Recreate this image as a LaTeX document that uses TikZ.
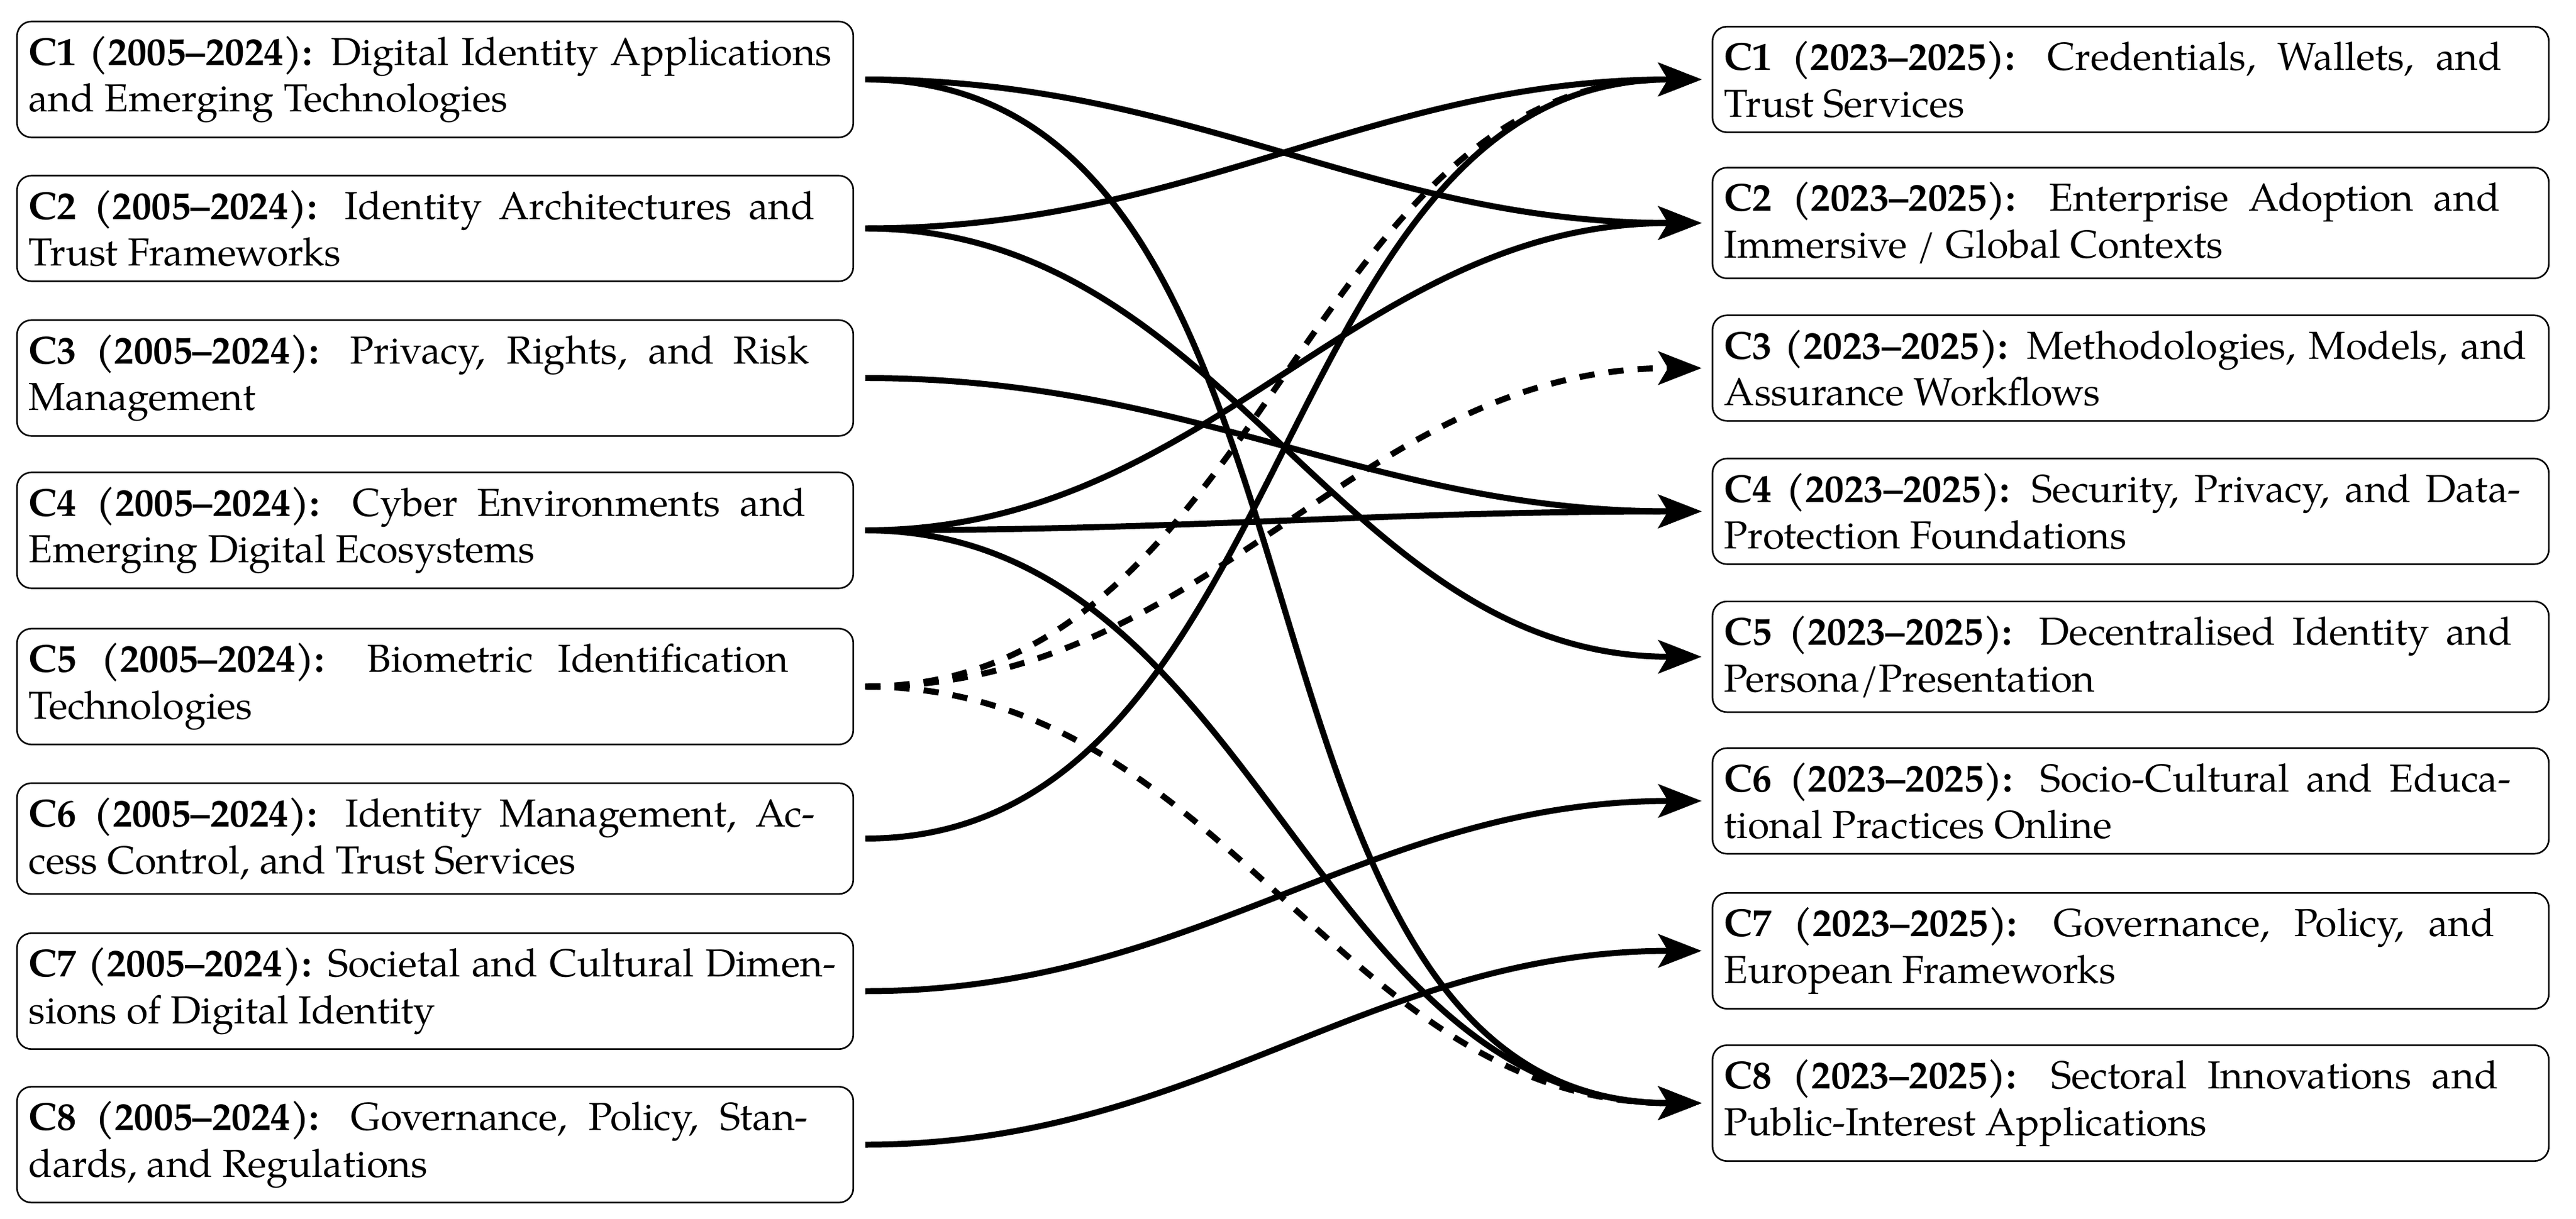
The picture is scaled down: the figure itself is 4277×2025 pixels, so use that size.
\documentclass[tikz,border=0pt]{standalone}
\usepackage{fontspec}
\setmainfont{texgyrepagella}[Extension=.otf,UprightFont=*-regular,BoldFont=*-bold,ItalicFont=*-italic,BoldItalicFont=*-bolditalic]
\usetikzlibrary{arrows.meta}
\newcommand\semirag{\leftskip=0pt\relax\rightskip=0pt plus 0.45em\relax\spaceskip=0pt\relax\xspaceskip=0pt\relax}
\newcommand\cltext[2]{\semirag\textbf{#1} #2\par}
\tikzset{
  box/.style={draw, line width=0.4pt, rounded corners=3.6pt, text width=203pt,
    inner xsep=2.9pt, inner ysep=3.6pt,
    font=\fontsize{9.75pt}{11.7pt}\selectfont},
  link/.style={line width=1.5pt, -{Stealth[length=10.8pt,width=8.3pt,inset=2.4pt]},
    shorten <=2.8pt, shorten >=2.5pt},
  dlink/.style={link, dash pattern=on 3.8pt off 3.5pt}
}
\begin{document}
\begin{tikzpicture}[x=0.15038pt,y=-0.15038pt]
\useasboundingbox (0,0) rectangle (4277,2025);
% left column
\node[box] (L1) at (722.5,132)    {\cltext{C1 (2005--2024):}{Digital Identity Applications\linebreak and Emerging Technologies}};
\node[box] (L2) at (722.5,379.5)  {\cltext{C2 (2005--2024):}{Identity Architectures and\linebreak Trust Frameworks}};
\node[box] (L3) at (722.5,628)    {\cltext{C3 (2005--2024):}{Privacy, Rights, and Risk\linebreak Management}};
\node[box] (L4) at (722.5,881)    {\cltext{C4 (2005--2024):}{Cyber Environments and\linebreak Emerging Digital Ecosystems}};
\node[box] (L5) at (722.5,1140.5) {\cltext{C5 (2005--2024):}{Biometric Identification\linebreak Technologies}};
\node[box] (L6) at (722.5,1393)   {\cltext{C6 (2005--2024):}{Identity Management, Ac-\linebreak cess Control, and Trust Services}};
\node[box] (L7) at (722.5,1646.5) {\cltext{C7 (2005--2024):}{Societal and Cultural Dimen-\linebreak sions of Digital Identity}};
\node[box] (L8) at (722.5,1901.5) {\cltext{C8 (2005--2024):}{Governance, Policy, Stan-\linebreak dards, and Regulations}};
% right column
\node[box] (R1) at (3537.5,132)    {\cltext{C1 (2023--2025):}{Credentials, Wallets, and\linebreak Trust Services}};
\node[box] (R2) at (3537.5,370.5)  {\cltext{C2 (2023--2025):}{Enterprise Adoption and\linebreak Immersive / Global Contexts}};
\node[box] (R3) at (3537.5,611.5)  {\cltext{C3 (2023--2025):}{Methodologies, Models, and\linebreak Assurance Workflows}};
\node[box] (R4) at (3537.5,849.5)  {\cltext{C4 (2023--2025):}{Security, Privacy, and Data-\linebreak Protection Foundations}};
\node[box] (R5) at (3537.5,1091)   {\cltext{C5 (2023--2025):}{Decentralised Identity and\linebreak Persona/Presentation}};
\node[box] (R6) at (3537.5,1330.5) {\cltext{C6 (2023--2025):}{Socio-Cultural and Educa-\linebreak tional Practices Online}};
\node[box] (R7) at (3537.5,1579.5) {\cltext{C7 (2023--2025):}{Governance, Policy, and\linebreak European Frameworks}};
\node[box] (R8) at (3537.5,1832.5) {\cltext{C8 (2023--2025):}{Sectoral Innovations and\linebreak Public-Interest Applications}};
% connectors
\draw[link] (L1.east) to[out=0,in=180] (R2.west);
\draw[link] (L1.east) to[out=0,in=180] (R8.west);
\draw[link] (L2.east) to[out=0,in=180] (R1.west);
\draw[link] (L2.east) to[out=0,in=180] (R5.west);
\draw[link] (L3.east) to[out=0,in=180] (R4.west);
\draw[link] (L4.east) to[out=0,in=180] (R2.west);
\draw[link] (L4.east) to[out=0,in=180] (R4.west);
\draw[link] (L4.east) to[out=0,in=180] (R8.west);
\draw[link] (L6.east) to[out=0,in=180] (R1.west);
\draw[link] (L7.east) to[out=0,in=180] (R6.west);
\draw[link] (L8.east) to[out=0,in=180] (R7.west);
\draw[dlink] (L5.east) to[out=0,in=180] (R1.west);
\draw[dlink] (L5.east) to[out=0,in=180] (R3.west);
\draw[dlink] (L5.east) to[out=0,in=180] (R8.west);
\end{tikzpicture}
\end{document}
